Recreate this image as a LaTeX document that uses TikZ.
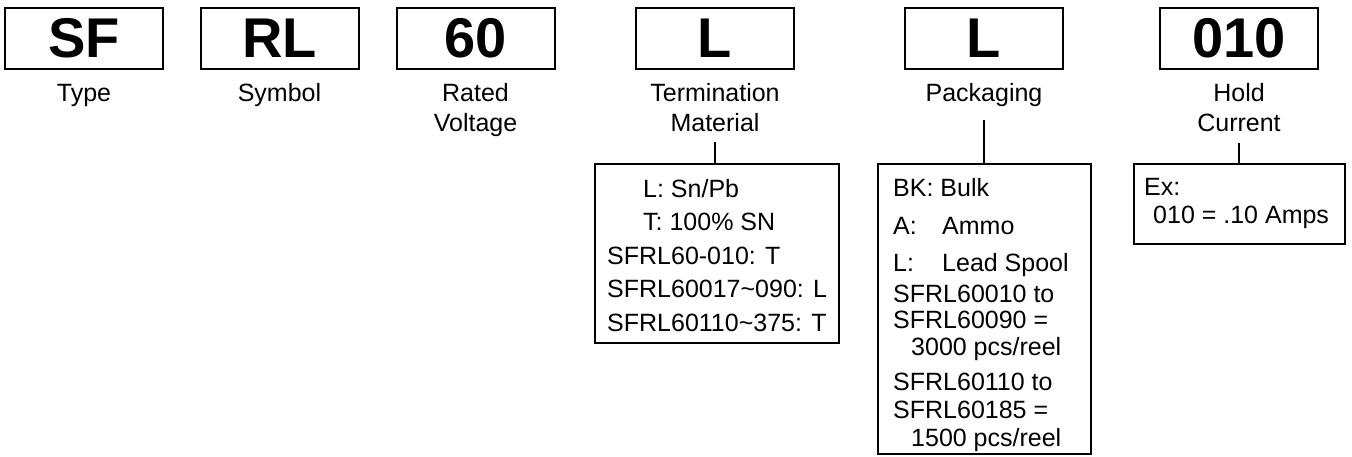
\documentclass[tikz,border=0pt]{standalone}
\usepackage{fontspec}
\setmainfont{Liberation Sans}
\begin{document}
\begin{tikzpicture}[x=1pt,y=-1pt,
  codebox/.style={draw,line width=2pt,minimum width=158pt,minimum height=61pt,inner sep=0pt,font=\fontsize{56}{60}\selectfont\bfseries},
  lbl/.style={anchor=base,inner sep=0pt,font=\fontsize{25}{30}\selectfont},
  infobox/.style={draw,line width=2pt,anchor=north west,inner sep=0pt},
  txt/.style={anchor=base west,inner sep=0pt,font=\fontsize{25}{30}\selectfont},
  conn/.style={line width=2pt}]
\useasboundingbox (0,0) rectangle (1352,456);

% code boxes
\node[codebox] (sf)  at (84,38.5)    {SF};
\node[codebox] (rl)  at (279.5,38.5) {RL};
\node[codebox] (v60) at (475.5,38.5) {60};
\node[codebox] (tl)  at (715,38.5)   {L};
\node[codebox] (pl)  at (984,38.5)   {L};
\node[codebox] (hc)  at (1239,38.5)  {010};

% labels
\node[lbl] (ltype) at (84,101) {Type};
\node[lbl] (lsym) at (279.5,101) {Symbol};
\node[lbl] (lrated) at (475.5,101) {\begin{tabular}[t]{@{}c@{}}Rated\\Voltage\end{tabular}};
\node[lbl] (lterm) at (715,101) {\begin{tabular}[t]{@{}c@{}}Termination\\Material\end{tabular}};
\node[lbl] (lpack) at (984,101) {Packaging};
\node[lbl] (lhold) at (1239,101) {\begin{tabular}[t]{@{}c@{}}Hold\\Current\end{tabular}};

% info boxes
\node[infobox,minimum width=244pt,minimum height=179pt] (termbox) at (594,163) {};
\node[infobox,minimum width=213pt,minimum height=290pt] (packbox) at (877,163) {};
\node[infobox,minimum width=211pt,minimum height=80pt] (holdbox) at (1133,163) {};

% connectors
\coordinate (termtop) at (715,142);
\coordinate (packtop) at (984,120);
\coordinate (holdtop) at (1238.5,143);
\draw[conn] (termtop) -- (termtop |- termbox.north);
\draw[conn] (packtop) -- (packtop |- packbox.north);
\draw[conn] (holdtop) -- (holdtop |- holdbox.north);

% termination text
\node[txt] (t1) at (643,197) {L: Sn/Pb};
\node[txt] (t2) at (643,230.5) {T: 100\% SN};
\node[txt] (t3) at (607,264) {SFRL60-010: T};
\node[txt] (t4) at (607,297.5) {SFRL60017\char"7E 090: L};
\node[txt] (t5) at (607,331) {SFRL60110\char"7E 375: T};

% packaging text
\node[txt] (p1) at (893,196) {BK: Bulk};
\node[txt] (p2a) at (893,234) {A:};
\node[txt] (p2b) at (942,234) {Ammo};
\node[txt] (p3a) at (893,271) {L:};
\node[txt] (p3b) at (942,271) {Lead Spool};
\node[txt] (p4) at (893,302) {SFRL60010 to};
\node[txt] (p5) at (893,328) {SFRL60090 =};
\node[txt] (p6) at (911,355) {3000 pcs/reel};
\node[txt] (p7) at (893,390) {SFRL60110 to};
\node[txt] (p8) at (893,418) {SFRL60185 =};
\node[txt] (p9) at (911,446) {1500 pcs/reel};

% hold text
\node[txt] (h1) at (1144,195) {Ex:};
\node[txt] (h2) at (1153,223) {010 = .10 Amps};
\end{tikzpicture}
\end{document}
